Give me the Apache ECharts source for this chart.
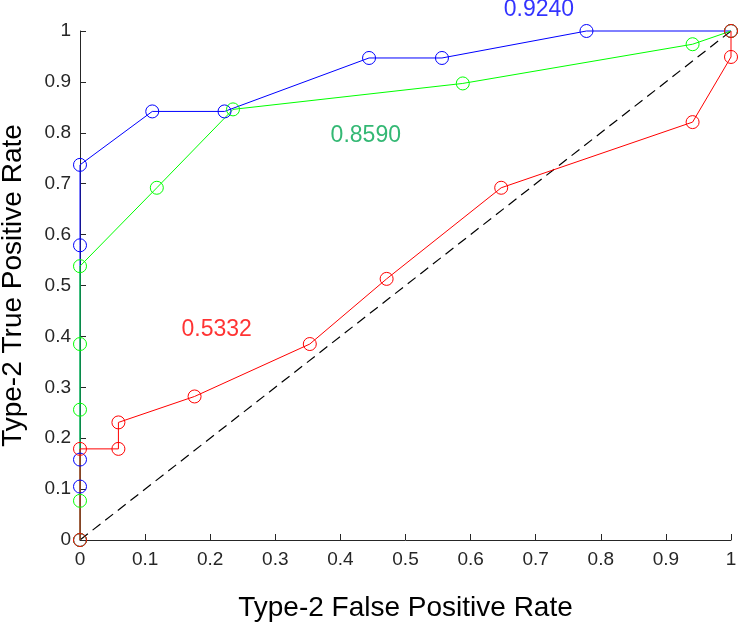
<!DOCTYPE html>
<html>
<head>
<meta charset="utf-8">
<script src="https://cdn.jsdelivr.net/npm/echarts@6/dist/echarts.min.js"></script>
<style>html,body{margin:0;padding:0;background:#fff}#chart{width:739px;height:625px}</style>
</head>
<body>
<div id="chart"></div>
<script>
// Data
var blueFPR = [0, 0, 0, 0, 0, 0.111, 0.222, 0.444, 0.556, 0.778, 1];
var blueTPR = [0, 0.105, 0.158, 0.579, 0.737, 0.842, 0.842, 0.947, 0.947, 1, 1];
var greenFPR = [0, 0, 0, 0, 0, 0.118, 0.235, 0.588, 0.941, 1];
var greenTPR = [0, 0.077, 0.256, 0.385, 0.538, 0.692, 0.846, 0.897, 0.974, 1];
var redFPR = [0, 0, 0.059, 0.059, 0.176, 0.353, 0.471, 0.647, 0.941, 1, 1];
var redTPR = [0, 0.179, 0.179, 0.231, 0.282, 0.385, 0.513, 0.692, 0.821, 0.949, 1];
var diagX = [0, 1];
var diagY = [0, 1];
var annTexts = ['0.9240', '0.8590', '0.5332'];
var annX = [0.705, 0.439, 0.210];
var annY = [1.041, 0.794, 0.413];
var annColors = ['#0000ff', '#00a651', '#ff0000'];
var tickLabels = ['0', '0.1', '0.2', '0.3', '0.4', '0.5', '0.6', '0.7', '0.8', '0.9', '1'];

function pairs(xs, ys) { return xs.map(function (x, i) { return [x, ys[i]]; }); }

var axisColor = '#262626';
var fontFam = '"Liberation Sans", Arial, sans-serif';

function curve(xs, ys, color) {
  return {
    type: 'line', data: pairs(xs, ys), symbol: 'circle', symbolSize: 13,
    showAllSymbol: true, clip: false, animation: false,
    lineStyle: { color: color, width: 1 },
    itemStyle: { color: 'rgba(0,0,0,0)', borderColor: color, borderWidth: 1 },
    emphasis: { disabled: true }
  };
}

var series = [
  { type: 'line', data: pairs(diagX, diagY), symbol: 'none', animation: false,
    lineStyle: { color: '#000', width: 1.2, type: [10, 6] }, emphasis: { disabled: true } },
  curve(blueFPR, blueTPR, '#0000ff'),
  curve(greenFPR, greenTPR, '#00ff00'),
  curve(redFPR, redTPR, '#ff0000')
];
annTexts.forEach(function (t, i) {
  series.push({
    type: 'scatter', clip: false, animation: false, symbolSize: 0,
    data: [[annX[i], annY[i]]],
    label: { show: true, position: 'inside', formatter: t, color: annColors[i],
      fontSize: 23, fontFamily: fontFam }
  });
});

var chart = echarts.init(document.getElementById('chart'), null, { renderer: 'canvas' });
chart.setOption({
  backgroundColor: '#fff',
  grid: { left: 80, right: 8, top: 31, bottom: 85, containLabel: false, outerBoundsMode: 'none' },
  xAxis: {
    type: 'value', min: 0, max: 1, interval: 0.1,
    name: 'Type-2 False Positive Rate', nameLocation: 'middle', nameGap: 54,
    nameTextStyle: { fontSize: 28, color: '#000', fontFamily: fontFam },
    axisLine: { show: true, lineStyle: { color: axisColor, width: 1 } },
    axisTick: { show: true, inside: true, length: 6, lineStyle: { color: axisColor } },
    axisLabel: { fontSize: 19, color: '#262626', fontFamily: fontFam, margin: 10,
      formatter: function (v) { return tickLabels[Math.round(v * 10)]; } },
    splitLine: { show: false }
  },
  yAxis: {
    type: 'value', min: 0, max: 1, interval: 0.1,
    name: 'Type-2 True Positive Rate', nameLocation: 'middle', nameGap: 53,
    nameTextStyle: { fontSize: 28, color: '#000', fontFamily: fontFam },
    axisLine: { show: true, lineStyle: { color: axisColor, width: 1 } },
    axisTick: { show: true, inside: true, length: 6, lineStyle: { color: axisColor } },
    axisLabel: { fontSize: 19, color: '#262626', fontFamily: fontFam, margin: 9,
      formatter: function (v) { return tickLabels[Math.round(v * 10)]; } },
    splitLine: { show: false }
  },
  series: series
});
</script>
</body>
</html>
